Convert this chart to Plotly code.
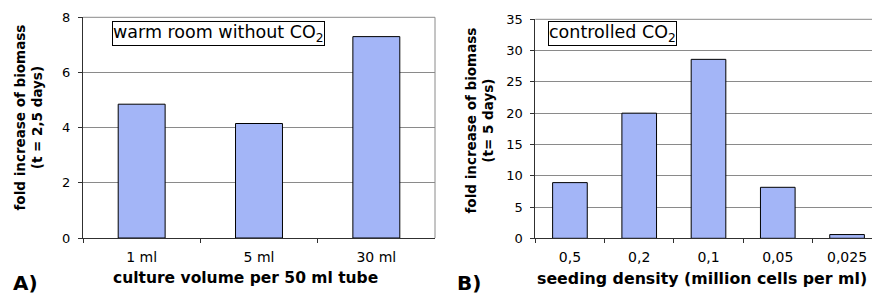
import plotly.graph_objects as go

# Panel A data
a_categories = ["1 ml", "5 ml", "30 ml"]
a_values = [4.85, 4.15, 7.3]
a_yticks = [0, 2, 4, 6, 8]

# Panel B data
b_categories = ["0,5", "0,2", "0,1", "0,05", "0,025"]
b_values = [8.9, 20.0, 28.6, 8.15, 0.6]
b_yticks = [0, 5, 10, 15, 20, 25, 30, 35]

W, H = 872, 296
FONT = "DejaVu Sans"
BAR = "#A3B5F7"
GRID = "#8a8a8a"
AXIS = "#303030"


def px(x):
    return x / W


def py(y):
    return 1 - y / H


fig = go.Figure()
fig.add_trace(go.Bar(x=a_categories, y=a_values, xaxis="x", yaxis="y",
                     marker=dict(color=BAR, line=dict(color="#000000", width=1)),
                     width=0.4, showlegend=False, hoverinfo="skip"))
fig.add_trace(go.Bar(x=b_categories, y=b_values, xaxis="x2", yaxis="y2",
                     marker=dict(color=BAR, line=dict(color="#000000", width=1)),
                     width=0.5, showlegend=False, hoverinfo="skip"))

xcommon = dict(showgrid=False, showline=True, linecolor=AXIS, linewidth=1,
               ticks="outside", ticklen=4, tickcolor=AXIS, ticklabelstandoff=6,
               automargin=False, fixedrange=True,
               tickfont=dict(family=FONT, size=14, color="#000"))
ycommon = dict(showline=True, linecolor=AXIS, linewidth=1,
               ticks="outside", ticklen=4, tickcolor=AXIS, ticklabelstandoff=5,
               automargin=False, fixedrange=True,
               tickfont=dict(family=FONT, size=13, color="#000"),
               showgrid=True, gridcolor=GRID, gridwidth=1, zeroline=False)

fig.update_layout(
    width=W, height=H,
    margin=dict(l=0, r=0, t=0, b=0, pad=0, autoexpand=False),
    paper_bgcolor="white", plot_bgcolor="white",
    font=dict(family=FONT, color="#000"),
    xaxis=dict(domain=[px(83), px(435)], anchor="y", type="category",
               tickson="boundaries", range=[-0.5, 2.5], **xcommon),
    yaxis=dict(domain=[py(238), py(17.3)], anchor="x", range=[0, 8],
               tickvals=a_yticks, **ycommon),
    xaxis2=dict(domain=[px(535.3), 1.0], anchor="y2", type="category",
                tickson="boundaries", range=[-0.5, 4.36], **xcommon),
    yaxis2=dict(domain=[py(238.3), py(19.3)], anchor="x2", range=[0, 35],
                tickvals=b_yticks, **ycommon),
    bargap=0.5,
)

# plot-area borders (gray) on top/right
fig.add_shape(type="line", xref="x domain", yref="y domain", x0=0, x1=1, y0=1, y1=1,
              line=dict(color=GRID, width=1), layer="below")
fig.add_shape(type="line", xref="x domain", yref="y domain", x0=1, x1=1, y0=0, y1=1,
              line=dict(color=GRID, width=1), layer="below")
fig.add_shape(type="line", xref="x2 domain", yref="y2 domain", x0=0, x1=1, y0=1, y1=1,
              line=dict(color=GRID, width=1), layer="below")

ann = []
# inset labels
ann.append(dict(text="warm room without CO<sub>2</sub>", xref="paper", yref="paper",
                x=px(111.7), y=py(21.2), xanchor="left", yanchor="top", showarrow=False,
                font=dict(family=FONT, size=17.5, color="#000"), bordercolor="#000",
                borderwidth=1, borderpad=0, bgcolor="white"))
ann.append(dict(text="controlled CO<sub>2</sub>", xref="paper", yref="paper",
                x=px(547.7), y=py(21.2), xanchor="left", yanchor="top", showarrow=False,
                font=dict(family=FONT, size=17.5, color="#000"), bordercolor="#000",
                borderwidth=1, borderpad=0, bgcolor="white"))
# axis titles
ann.append(dict(text="<b>culture volume per 50 ml tube</b>", xref="paper", yref="paper",
                x=px(245), y=py(278), xanchor="center", yanchor="middle", showarrow=False,
                font=dict(family=FONT, size=15.5, color="#000")))
ann.append(dict(text="<b>seeding density (million cells per ml)</b>", xref="paper", yref="paper",
                x=px(869), y=py(278), xanchor="right", yanchor="middle", showarrow=False,
                font=dict(family=FONT, size=15.8, color="#000")))
ann.append(dict(text="<b>fold increase of biomass<br>(t = 2,5 days)</b>", xref="paper", yref="paper",
                x=px(28.5), y=py(118), xanchor="center", yanchor="middle", showarrow=False,
                textangle=-90, font=dict(family=FONT, size=13.5, color="#000")))
ann.append(dict(text="<b>fold increase of biomass<br>(t= 5 days)</b>", xref="paper", yref="paper",
                x=px(479.5), y=py(121), xanchor="center", yanchor="middle", showarrow=False,
                textangle=-90, font=dict(family=FONT, size=13.5, color="#000")))
# panel letters
ann.append(dict(text="<b>A)</b>", xref="paper", yref="paper", x=px(11), y=py(283),
                xanchor="left", yanchor="middle", showarrow=False,
                font=dict(family=FONT, size=20, color="#000")))
ann.append(dict(text="<b>B)</b>", xref="paper", yref="paper", x=px(455), y=py(283),
                xanchor="left", yanchor="middle", showarrow=False,
                font=dict(family=FONT, size=20, color="#000")))
fig.update_layout(annotations=ann)

fig.write_html("out.html", config={"displayModeBar": False},
               post_script="document.body.style.margin='0';")
